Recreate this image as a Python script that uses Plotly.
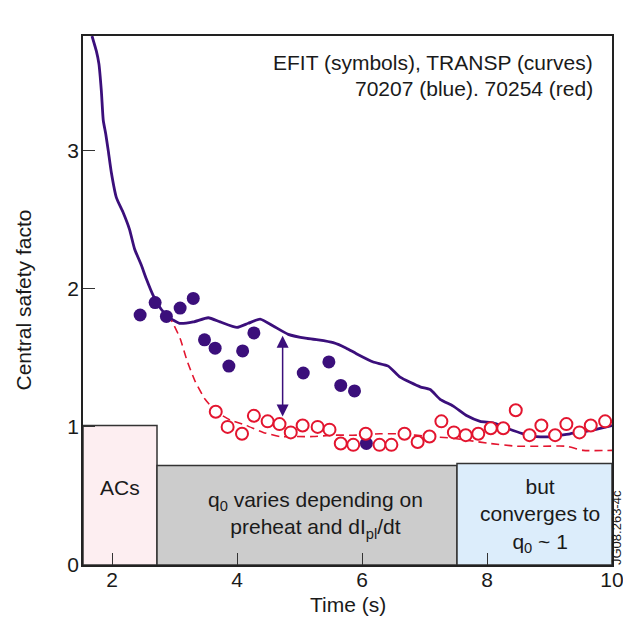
import plotly.graph_objects as go

# ---- data ----
blue_curve_x = [1.68, 1.75, 1.79, 1.83, 1.86, 1.90, 1.94, 1.99, 2.07, 2.18, 2.28, 2.36, 2.47, 2.55, 2.66,
                2.79, 2.92, 3.08, 3.30, 3.54, 3.73, 4.00, 4.18, 4.37, 4.58, 4.82, 5.12, 5.30, 5.54,
                5.75, 5.91, 6.18, 6.42, 6.61, 6.93, 7.09, 7.25, 7.46, 7.68, 7.89, 8.10, 8.32, 8.58,
                8.79, 9.06, 9.33, 9.60, 9.81, 10.0]
blue_curve_y = [3.83, 3.72, 3.63, 3.43, 3.22, 3.12, 3.00, 2.84, 2.66, 2.55, 2.43, 2.29, 2.17, 2.07, 1.95,
                1.85, 1.79, 1.75, 1.76, 1.79, 1.76, 1.72, 1.75, 1.78, 1.73, 1.67, 1.64, 1.63, 1.61,
                1.57, 1.53, 1.47, 1.44, 1.36, 1.29, 1.27, 1.20, 1.15, 1.08, 1.04, 1.03, 0.99, 0.95,
                0.93, 0.93, 0.95, 0.97, 0.99, 1.01]

red_curve_x = [2.87, 2.95, 3.09, 3.20, 3.33, 3.49, 3.67, 3.89, 4.15, 4.42, 4.69, 4.96, 5.22, 5.54,
               5.91, 6.29, 6.61, 7.09, 7.41, 7.73, 8.05, 8.48, 8.90, 9.27, 9.54, 10.0]
red_curve_y = [1.80, 1.77, 1.64, 1.48, 1.33, 1.20, 1.11, 1.05, 1.01, 0.96, 0.93, 0.93, 0.93, 0.94,
               0.94, 0.95, 0.95, 0.93, 0.92, 0.90, 0.88, 0.86, 0.86, 0.86, 0.83, 0.83]

blue_pts_x = [2.45, 2.69, 2.87, 3.09, 3.30, 3.48, 3.65, 3.87, 4.09, 4.27, 5.06, 5.47, 5.66, 5.88, 6.07]
blue_pts_y = [1.81, 1.90, 1.80, 1.86, 1.93, 1.63, 1.57, 1.44, 1.55, 1.68, 1.39, 1.47, 1.30, 1.26, 0.88]

red_pts_x = [3.66, 3.85, 4.08, 4.27, 4.49, 4.68, 4.86, 5.05, 5.29, 5.48, 5.66, 5.86, 6.06, 6.28,
             6.47, 6.68, 6.89, 7.08, 7.27, 7.47, 7.66, 7.86, 8.06, 8.26, 8.46, 8.68, 8.87, 9.09,
             9.27, 9.48, 9.66, 9.89]
red_pts_y = [1.11, 1.00, 0.95, 1.08, 1.04, 1.02, 0.96, 1.01, 1.00, 0.98, 0.88, 0.87, 0.95, 0.87,
             0.87, 0.95, 0.89, 0.93, 1.04, 0.96, 0.94, 0.95, 0.99, 0.99, 1.12, 0.94, 1.01, 0.94,
             1.02, 0.96, 1.01, 1.04]

# phase boxes: start, end, height
box_x0 = [1.536, 2.72, 7.52]
box_x1 = [2.72, 7.52, 10.0]
box_top = [1.01, 0.72, 0.735]
box_fill = ["#fdeef1", "#cccccc", "#dcedfb"]
box_text = ["ACs", "q<sub>0</sub> varies depending on<br>preheat and dI<sub>pl</sub>/dt",
            "but<br>converges to<br>q<sub>0</sub> ~ 1"]
box_text_x = [2.13, 5.26, 8.85]
box_text_y = [0.56, 0.36, 0.36]

arrow_x = 4.73
arrow_y = [1.065, 1.66]

x_ticks = [2, 4, 6, 8, 10]
y_ticks = [0, 1, 2, 3]

BLUE = "#3b0f7b"
RED = "#e3152f"
FONT = "Liberation Sans, Arial, sans-serif"

fig = go.Figure()

fig.add_trace(go.Scatter(x=blue_curve_x, y=blue_curve_y, mode="lines",
                         line=dict(color=BLUE, width=2.8, shape="spline", smoothing=0.5),
                         hoverinfo="skip"))
fig.add_trace(go.Scatter(x=red_curve_x, y=red_curve_y, mode="lines",
                         line=dict(color=RED, width=1.6, dash="8px,5px", shape="spline", smoothing=0.5),
                         hoverinfo="skip"))
fig.add_trace(go.Scatter(x=blue_pts_x, y=blue_pts_y, mode="markers",
                         marker=dict(color=BLUE, size=13, line=dict(width=0))))
fig.add_trace(go.Scatter(x=red_pts_x, y=red_pts_y, mode="markers",
                         marker=dict(color="white", size=12, line=dict(color=RED, width=2))))

shapes = []
for x0, x1, top, fc in zip(box_x0, box_x1, box_top, box_fill):
    shapes.append(dict(type="rect", xref="x", yref="y", x0=x0, x1=x1, y0=0, y1=top,
                       fillcolor=fc, line=dict(color="#333333", width=1.5), layer="below"))

annotations = []
for t, tx, ty in zip(box_text, box_text_x, box_text_y):
    annotations.append(dict(x=tx, y=ty, xref="x", yref="y", text=t, showarrow=False,
                            font=dict(family=FONT, size=21, color="#1a1a1a"), align="center"))

# double-headed arrow
annotations.append(dict(x=arrow_x, y=arrow_y[1], ax=arrow_x, ay=arrow_y[0],
                        xref="x", yref="y", axref="x", ayref="y", text="", showarrow=True,
                        arrowhead=2, startarrowhead=2, arrowside="end+start", arrowsize=1.6,
                        arrowwidth=1.5, arrowcolor=BLUE))

annotations += [
    dict(x=1, y=1, xref="paper", yref="paper", xanchor="right", yanchor="middle",
         xshift=-17, yshift=-26, text="EFIT (symbols), TRANSP (curves)", showarrow=False,
         font=dict(family=FONT, size=21, color="#1a1a1a")),
    dict(x=1, y=1, xref="paper", yref="paper", xanchor="right", yanchor="middle",
         xshift=-17, yshift=-52, text="70207 (blue). 70254 (red)", showarrow=False,
         font=dict(family=FONT, size=21, color="#1a1a1a")),
    dict(x=0.5, y=0, xref="paper", yref="paper", xanchor="center", yanchor="middle",
         xshift=0, yshift=-39, text="Time (s)", showarrow=False,
         font=dict(family=FONT, size=21, color="#1a1a1a")),
    dict(x=0, y=0.5, xref="paper", yref="paper", xanchor="center", yanchor="middle",
         xshift=-60, yshift=0, text="Central safety facto", textangle=-90, showarrow=False,
         font=dict(family=FONT, size=21, color="#1a1a1a")),
    dict(x=1, y=0, xref="paper", yref="paper", xanchor="center", yanchor="middle",
         xshift=4, yshift=37, text="JG08.263-4c", textangle=-90, showarrow=False,
         font=dict(family=FONT, size=13, color="#1a1a1a")),
]

axis_common = dict(showgrid=False, zeroline=False, showline=True, mirror=True,
                   linecolor="#222222", linewidth=1.5, ticks="inside", ticklen=12,
                   tickwidth=1.3, tickcolor="#333333", automargin=False,
                   ticklabeloverflow="allow",
                   tickfont=dict(family=FONT, size=21, color="#1a1a1a"))

fig.update_layout(
    width=623, height=619,
    margin=dict(l=83, r=11, t=36, b=54),
    paper_bgcolor="white", plot_bgcolor="white",
    showlegend=False,
    shapes=shapes, annotations=annotations,
    xaxis=dict(range=[1.536, 10], tickvals=x_ticks, ticklabelstandoff=-5, **axis_common),
    yaxis=dict(range=[0, 3.83], tickvals=y_ticks, ticklabelstandoff=-2, **axis_common),
)

fig.write_html("out.html")
